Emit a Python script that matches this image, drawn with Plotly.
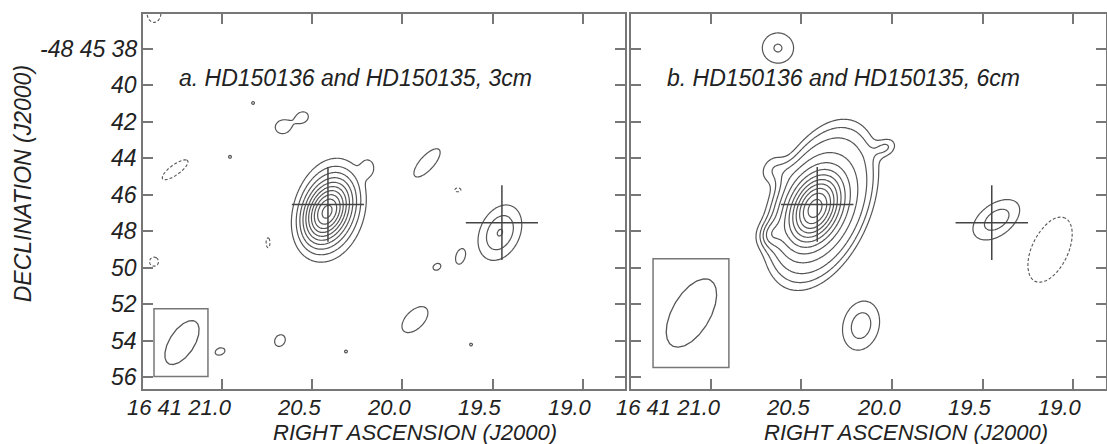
import numpy as np
import plotly.graph_objects as go

# ---------------- axis ticks ----------------
ra_ticks = [21.0, 20.5, 20.0, 19.5, 19.0]
ra_ticktext = ["16 41 21.0", "20.5", "20.0", "19.5", "19.0"]
dec_ticks = [38, 40, 42, 44, 46, 48, 50, 52, 54, 56]
dec_ticktext = ["-48 45 38", "40", "42", "44", "46", "48", "50", "52", "54", "56"]

panel_labels = ["a. HD150136 and HD150135, 3cm", "b. HD150136 and HD150135, 6cm"]
label_ra = [21.249, 21.254]
label_dec = [39.59, 39.59]

# star positions (crosses): RA seconds (16h41m..s), Dec arcsec (-48 45 ..")
star_ra = [20.413, 19.449]
star_dec = [46.53, 47.53]

# ---------------- source components (read from the maps) ----------------
# panel a : 3 cm
a_ra   = [20.418, 20.402, 20.191, 19.460, 20.662, 20.551, 20.828, 21.260, 21.377, 21.377, 20.745,
          20.679, 21.011, 20.313, 19.864, 19.693, 19.681, 19.809, 19.931, 19.620, 20.956]
a_dec  = [46.93, 46.82, 44.52, 48.08, 42.27, 41.73, 40.96, 44.63, 36.00, 49.67, 48.63,
          54.00, 54.60, 54.60, 44.25, 45.73, 49.40, 49.95, 52.85, 54.22, 43.92]
a_amp  = [7.8, 2.6, 1.6, 3.05, 1.35, 1.35, 1.15, -1.3, -1.3, -1.3, -1.3,
          1.3, 1.3, 1.15, 1.3, -1.3, 1.3, 1.3, 1.3, 1.15, 1.15]
a_smaj = [1.15, 2.30, 0.40, 1.07, 0.55, 0.36, 0.15, 1.17, 0.75, 0.34, 0.38,
          0.46, 0.38, 0.15, 1.36, 0.23, 0.53, 0.30, 1.21, 0.15, 0.15]
a_smin = [0.76, 1.53, 0.30, 0.73, 0.48, 0.33, 0.15, 0.38, 0.53, 0.34, 0.15,
          0.38, 0.26, 0.15, 0.53, 0.15, 0.30, 0.23, 0.68, 0.15, 0.15]
a_tilt = [24, 12, 0, 25, 75, 60, 0, 54, 0, 0, 0,
          30, 70, 0, 42, 90, 15, 60, 45, 0, 0]
a_pow  = [2, 4, 2, 2, 2, 2, 2, 2, 2, 2, 2,
          2, 2, 2, 2, 2, 2, 2, 2, 2, 2]

# panel b : 6 cm
b_ra   = [20.425, 20.392, 20.039, 20.646, 20.685, 19.420, 19.127, 20.630, 20.171]
b_dec  = [46.75, 46.55, 43.42, 44.63, 48.19, 47.37, 49.01, 37.95, 53.18]
b_amp  = [9.2, 3.4, 2.2, 2.0, 2.2, 2.6, -1.5, 2.1, 2.6]
b_smaj = [1.42, 4.41, 0.44, 0.60, 0.55, 1.07, 2.13, 0.70, 0.99]
b_smin = [0.93, 2.45, 0.33, 0.50, 0.45, 0.64, 1.10, 0.68, 0.71]
b_tilt = [25, 22, 60, 40, 20, 55, 25, 90, 15]
b_pow  = [2, 8, 2, 2, 2, 2, 2, 2, 2]

# contour levels (multiples of the lowest level)
pos_levels = (1, 12, 1)
neg_levels = (1, 1, 1)

# restoring beams and their boxes
beam_ra = [21.222, 21.108]
beam_dec = [54.11, 52.49]
beam_smaj = [1.37, 2.08]
beam_smin = [0.68, 1.04]
beam_tilt = [33, 30]
box_ra0 = [21.377, 21.320]
box_ra1 = [21.078, 20.901]
box_dec0 = [52.25, 49.51]
box_dec1 = [55.97, 55.48]

ARCSEC_PER_SEC = 9.89  # 15 * cos(dec)

grid_ra = np.arange(18.70, 21.52, 0.006)
grid_dec = np.arange(35.80, 56.90, 0.06)
RA, DEC = np.meshgrid(grid_ra, grid_dec)


def model(ras, decs, amps, smaj, smin, tilts, pows):
    Z = np.zeros_like(RA)
    for r0, d0, A, sa, sb, t, p in zip(ras, decs, amps, smaj, smin, tilts, pows):
        sx = (r0 - RA) * ARCSEC_PER_SEC
        sy = d0 - DEC
        th = np.radians(t)
        along = sx * np.sin(th) + sy * np.cos(th)
        across = sx * np.cos(th) - sy * np.sin(th)
        q = (along / sa) ** 2 + (across / sb) ** 2
        Z += A * np.exp(-0.5 * q ** (p / 2.0))
    return Z


LINE = "#555555"
FRAME = "#777777"
TEXT = "#222222"
FONT = "Liberation Sans, Arial, sans-serif"

fig = go.Figure()

panels = [
    (model(a_ra, a_dec, a_amp, a_smaj, a_smin, a_tilt, a_pow), "x", "y"),
    (model(b_ra, b_dec, b_amp, b_smaj, b_smin, b_tilt, b_pow), "x2", "y2"),
]

for Z, xa, ya in panels:
    zp = np.round(np.where(Z > 0, Z, 0.0), 3).astype(np.float32)
    zn = np.round(np.where(Z < 0, -Z, 0.0), 3).astype(np.float32)
    fig.add_trace(go.Contour(
        x=grid_ra, y=grid_dec, z=zp, xaxis=xa, yaxis=ya,
        autocontour=False,
        contours=dict(coloring="lines", start=pos_levels[0], end=pos_levels[1], size=pos_levels[2]),
        colorscale=[[0, LINE], [1, LINE]], showscale=False,
        line=dict(color=LINE, width=1.2, smoothing=1), hoverinfo="skip"))
    fig.add_trace(go.Contour(
        x=grid_ra, y=grid_dec, z=zn, xaxis=xa, yaxis=ya,
        autocontour=False,
        contours=dict(coloring="lines", start=neg_levels[0], end=neg_levels[1], size=neg_levels[2]),
        colorscale=[[0, LINE], [1, LINE]], showscale=False,
        line=dict(color=LINE, width=1.1, dash="3px,2px", smoothing=1), hoverinfo="skip"))
    # star crosses
    for sr, sd in zip(star_ra, star_dec):
        fig.add_trace(go.Scatter(x=[sr - 0.2, sr + 0.2], y=[sd, sd], mode="lines",
                                 line=dict(color="#444444", width=1.5), xaxis=xa, yaxis=ya,
                                 hoverinfo="skip"))
        fig.add_trace(go.Scatter(x=[sr, sr], y=[sd - 2.05, sd + 2.05], mode="lines",
                                 line=dict(color="#444444", width=1.5), xaxis=xa, yaxis=ya,
                                 hoverinfo="skip"))

# beams
phi = np.linspace(0, 2 * np.pi, 181)
for i, (xa, ya) in enumerate([("x", "y"), ("x2", "y2")]):
    th = np.radians(beam_tilt[i])
    sx = beam_smaj[i] * np.cos(phi) * np.sin(th) + beam_smin[i] * np.sin(phi) * np.cos(th)
    sy = beam_smaj[i] * np.cos(phi) * np.cos(th) - beam_smin[i] * np.sin(phi) * np.sin(th)
    fig.add_trace(go.Scatter(x=beam_ra[i] - sx / ARCSEC_PER_SEC, y=beam_dec[i] - sy,
                             mode="lines", line=dict(color=LINE, width=1.3),
                             xaxis=xa, yaxis=ya, hoverinfo="skip"))
    fig.add_shape(type="rect", xref=xa, yref=ya, x0=box_ra0[i], x1=box_ra1[i],
                  y0=box_dec0[i], y1=box_dec1[i], line=dict(color=FRAME, width=1.5))

axis_common = dict(showgrid=False, zeroline=False, showline=True, linecolor=FRAME, linewidth=1.5,
                   mirror="ticks", ticks="inside", ticklen=10, tickwidth=1.5, tickcolor=FRAME,
                   showticklabels=False)

fig.update_layout(
    width=1107, height=444, margin=dict(l=143, r=1, t=14, b=55, autoexpand=False),
    paper_bgcolor="white", plot_bgcolor="white", showlegend=False,
    xaxis=dict(domain=[0, 0.5005], range=[21.438, 18.767], tickvals=ra_ticks,
               anchor="y", **axis_common),
    yaxis=dict(range=[56.658, 36.082], tickvals=dec_ticks, anchor="x", **axis_common),
    xaxis2=dict(domain=[0.5067, 1], range=[21.442, 18.818], tickvals=ra_ticks,
                anchor="y2", **axis_common),
    yaxis2=dict(range=[56.658, 36.082], tickvals=dec_ticks, anchor="x2", **axis_common),
)

font_it = dict(family=FONT, size=23, color=TEXT, style="italic")
font_x = dict(family=FONT, size=22, color=TEXT, style="italic")
annotations = []
for xa in ["x", "x2"]:
    for v, t in zip(ra_ticks, ra_ticktext):
        first = t.startswith("16")
        annotations.append(dict(x=v, y=-0.048, xref=xa, yref="paper", text=t, showarrow=False,
                                xanchor="right" if first else "center", yanchor="middle",
                                xshift=11 if first else -13, font=font_x, borderpad=0))
for v, t in zip(dec_ticks, dec_ticktext):
    annotations.append(dict(x=0, y=v, xref="paper", yref="y", text=t, showarrow=False,
                            xanchor="right", yanchor="middle", xshift=-4, font=font_it))
annotations.append(dict(x=19.931, y=-0.1147, xref="x", yref="paper", text="RIGHT ASCENSION (J2000)",
                        showarrow=False, xanchor="center", yanchor="middle", font=font_x, borderpad=0))
annotations.append(dict(x=19.923, y=-0.1147, xref="x2", yref="paper", text="RIGHT ASCENSION (J2000)",
                        showarrow=False, xanchor="center", yanchor="middle", font=font_x, borderpad=0))
annotations.append(dict(x=-0.1246, y=0.546, xref="paper", yref="paper", text="DECLINATION (J2000)",
                        textangle=-90, showarrow=False, xanchor="center", yanchor="middle", font=font_it))
for i, xa in enumerate(["x", "x2"]):
    annotations.append(dict(x=label_ra[i], y=label_dec[i], xref=xa, yref="y" if xa == "x" else "y2",
                            text=panel_labels[i], showarrow=False, xanchor="left", yanchor="middle",
                            font=font_it))
fig.update_layout(annotations=annotations)

fig.write_html("out.html", config={"displayModeBar": False},
               post_script="document.body.style.margin='0';document.body.style.overflow='hidden';")
